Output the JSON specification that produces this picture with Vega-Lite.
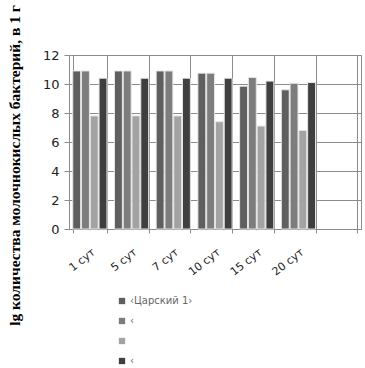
{
  "$schema": "https://vega.github.io/schema/vega-lite/v6.json",
  "autosize": "none",
  "width": 292,
  "height": 174,
  "padding": {"left": 69, "top": 55, "right": 4, "bottom": 139},
  "background": "white",
  "config": {"view": {"stroke": "#8c8c8c", "strokeWidth": 1}},
  "data": {"values": [
    {"day": "1 сут", "series": "s1", "value": 10.9},
    {"day": "1 сут", "series": "s2", "value": 10.9},
    {"day": "1 сут", "series": "s3", "value": 7.8},
    {"day": "1 сут", "series": "s4", "value": 10.4},
    {"day": "5 сут", "series": "s1", "value": 10.9},
    {"day": "5 сут", "series": "s2", "value": 10.9},
    {"day": "5 сут", "series": "s3", "value": 7.8},
    {"day": "5 сут", "series": "s4", "value": 10.4},
    {"day": "7 сут", "series": "s1", "value": 10.9},
    {"day": "7 сут", "series": "s2", "value": 10.9},
    {"day": "7 сут", "series": "s3", "value": 7.8},
    {"day": "7 сут", "series": "s4", "value": 10.4},
    {"day": "10 сут", "series": "s1", "value": 10.75},
    {"day": "10 сут", "series": "s2", "value": 10.75},
    {"day": "10 сут", "series": "s3", "value": 7.4},
    {"day": "10 сут", "series": "s4", "value": 10.4},
    {"day": "15 сут", "series": "s1", "value": 9.85},
    {"day": "15 сут", "series": "s2", "value": 10.45},
    {"day": "15 сут", "series": "s3", "value": 7.1},
    {"day": "15 сут", "series": "s4", "value": 10.2},
    {"day": "20 сут", "series": "s1", "value": 9.6},
    {"day": "20 сут", "series": "s2", "value": 10.05},
    {"day": "20 сут", "series": "s3", "value": 6.8},
    {"day": "20 сут", "series": "s4", "value": 10.1}
  ]},
  "mark": {"type": "bar", "stroke": "#e6e6e6", "strokeWidth": 1},
  "encoding": {
    "x": {
      "field": "day", "type": "nominal",
      "scale": {"domain": ["1 сут", "5 сут", "7 сут", "10 сут", "15 сут", "20 сут", "_"], "paddingInner": 0.18, "paddingOuter": 0.09},
      "axis": {
        "title": null, "labelAngle": -38, "labelAlign": "right", "labelBaseline": "top",
        "labelExpr": "datum.value == '_' ? '' : datum.value",
        "labelFont": "DejaVu Sans", "labelFontSize": 11, "labelColor": "#222",
        "tickBand": "extent", "grid": true, "gridColor": "#8c8c8c",
        "domainColor": "#8c8c8c", "tickColor": "#8c8c8c", "tickSize": 4, "labelPadding": 13, "labelDx": -4
      }
    },
    "xOffset": {"field": "series", "type": "nominal", "scale": {"paddingInner": 0.1}},
    "y": {
      "field": "value", "type": "quantitative",
      "scale": {"domain": [0, 12]},
      "axis": {
        "values": [0, 2, 4, 6, 8, 10, 12],
        "title": "lg количества молочнокислых бактерий, в 1 г",
        "titleFont": "Liberation Serif", "titleFontSize": 15.5, "titleFontWeight": "bold", "titleColor": "#000",
        "titleX": -55, "titleY": 110, "titleAngle": -90, "titleBaseline": "middle",
        "labelFont": "DejaVu Sans", "labelFontSize": 13, "labelColor": "#222",
        "gridColor": "#8c8c8c", "domainColor": "#8c8c8c", "tickColor": "#8c8c8c", "tickSize": 5, "labelPadding": 5
      }
    },
    "color": {
      "field": "series", "type": "nominal",
      "scale": {"domain": ["s1", "s2", "s3", "s4"], "range": ["#5f5f5f", "#7d7d7d", "#a3a3a3", "#3f3f3f"]},
      "legend": {
        "orient": "none", "legendX": 48, "legendY": 241, "direction": "vertical",
        "title": null, "symbolType": "square", "symbolSize": 40, "symbolStrokeWidth": 0,
        "labelExpr": "datum.value == 's1' ? '‹Царский 1›' : datum.value == 's3' ? '' : '‹'",
        "labelFont": "DejaVu Sans", "labelFontSize": 10, "labelColor": "#666",
        "rowPadding": 10, "labelOffset": 3
      }
    }
  }
}
